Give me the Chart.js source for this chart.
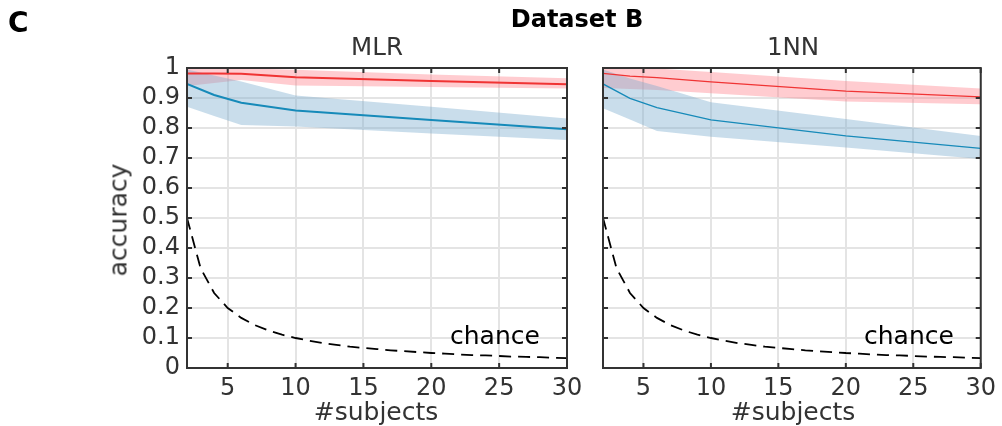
<!DOCTYPE html>
<html>
<head>
<meta charset="utf-8">
<script src="https://cdn.jsdelivr.net/npm/chart.js@4/dist/chart.umd.min.js"></script>
<style>
  body { margin: 0; background: #fff; }
  #wrap { position: relative; width: 1002px; height: 426px; overflow: hidden; font-family: 'DejaVu Sans', sans-serif; }
  canvas { position: absolute; top: 0; }
  .lbl { position: absolute; line-height: 1; white-space: nowrap; color: #333; }
</style>
</head>
<body>
<div id="wrap">
  <canvas id="mlr-chart" width="590" height="426" style="left:0"></canvas>
  <canvas id="nn-chart" width="417" height="426" style="left:585px"></canvas>

  <div class="lbl" style="left:8px;top:9px;font-size:28px;font-weight:bold;color:#000">C</div>
  <div class="lbl" style="left:577px;top:7px;font-size:24px;font-weight:bold;color:#000;transform:translateX(-50%)">Dataset B</div>
  <div class="lbl" style="left:377px;top:35.3px;font-size:24.5px;transform:translateX(-50%)">MLR</div>
  <div class="lbl" style="left:793px;top:35.3px;font-size:24.5px;transform:translateX(-50%)">1NN</div>
  <div class="lbl" style="left:118px;top:220px;font-size:25px;transform:translate(-50%,-50%) rotate(-90deg)">accuracy</div>
  <div class="lbl" style="left:376px;top:398.8px;font-size:25px;transform:translateX(-50%)">#subjects</div>
  <div class="lbl" style="left:793px;top:398.8px;font-size:25px;transform:translateX(-50%)">#subjects</div>
  <div class="lbl" style="left:450px;top:322.9px;font-size:25px;color:#000">chance</div>
  <div class="lbl" style="left:864px;top:322.9px;font-size:25px;color:#000">chance</div>
</div>
<script>
'use strict';

// ── Data ─────────────────────────────────────────────────────────────────────

const subjects = [2, 4, 6, 10, 20, 30];

const mlrRed      = [0.982, 0.982, 0.981, 0.969, 0.957, 0.946];
const mlrRedUp    = [1.000, 1.000, 0.999, 0.994, 0.978, 0.966];
const mlrRedLo    = [0.940, 0.950, 0.960, 0.942, 0.937, 0.932];
const mlrBlue     = [0.947, 0.910, 0.884, 0.858, 0.827, 0.796];
const mlrBlueUp   = [0.995, 0.975, 0.955, 0.908, 0.871, 0.832];
const mlrBlueLo   = [0.871, 0.840, 0.810, 0.805, 0.782, 0.760];

const nnRed       = [0.982, 0.973, 0.968, 0.954, 0.923, 0.904];
const nnRedUp     = [1.000, 1.000, 0.998, 0.987, 0.957, 0.932];
const nnRedLo     = [0.933, 0.930, 0.927, 0.916, 0.888, 0.879];
const nnBlue      = [0.947, 0.899, 0.868, 0.827, 0.774, 0.732];
const nnBlueUp    = [0.995, 0.965, 0.940, 0.886, 0.830, 0.773];
const nnBlueLo    = [0.866, 0.828, 0.790, 0.771, 0.735, 0.697];

const chanceX = [2, 3, 4, 5, 6, 7, 8, 9, 10, 11, 12, 13, 14, 15, 16, 17, 18, 19, 20,
                 21, 22, 23, 24, 25, 26, 27, 28, 29, 30];
const chanceY = [0.500, 0.333, 0.250, 0.200, 0.167, 0.143, 0.125, 0.111, 0.100, 0.091,
                 0.083, 0.077, 0.071, 0.067, 0.063, 0.059, 0.056, 0.053, 0.050, 0.048,
                 0.045, 0.043, 0.042, 0.040, 0.038, 0.037, 0.036, 0.034, 0.033];

const xTicks = [5, 10, 15, 20, 25, 30];
const yTicks = [0, 0.1, 0.2, 0.3, 0.4, 0.5, 0.6, 0.7, 0.8, 0.9, 1];
const yTickLabels = ['0', '0.1', '0.2', '0.3', '0.4', '0.5', '0.6', '0.7', '0.8', '0.9', '1'];

// ── Helpers ──────────────────────────────────────────────────────────────────

const RED = 'rgb(240,52,52)';
const BLUE = 'rgb(22,138,185)';
const RED_BAND = 'rgba(255,120,132,0.38)';
const BLUE_BAND = 'rgba(120,170,205,0.40)';

function pts(xs, ys) {
  return xs.map((x, i) => ({ x, y: ys[i] }));
}

function band(up, lo, color) {
  return [
    { data: pts(subjects, up), borderWidth: 0, pointRadius: 0, fill: '+1', backgroundColor: color, tension: 0 },
    { data: pts(subjects, lo), borderWidth: 0, pointRadius: 0, fill: false, tension: 0 },
  ];
}

function line(ys, color, w) {
  return { data: pts(subjects, ys), borderColor: color, borderWidth: w, pointRadius: 0, fill: false, tension: 0 };
}

// frame box + inward tick marks
const framePlugin = {
  id: 'frame',
  afterDatasetsDraw(chart) {
    const { ctx, chartArea: a, scales: { x, y } } = chart;
    ctx.save();
    ctx.strokeStyle = '#333';
    ctx.lineWidth = 2;
    ctx.beginPath();
    xTicks.forEach(v => {
      const px = x.getPixelForValue(v);
      ctx.moveTo(px, a.bottom); ctx.lineTo(px, a.bottom - 5);
      ctx.moveTo(px, a.top); ctx.lineTo(px, a.top + 5);
    });
    yTicks.forEach(v => {
      const py = y.getPixelForValue(v);
      ctx.moveTo(a.left, py); ctx.lineTo(a.left + 5, py);
      ctx.moveTo(a.right, py); ctx.lineTo(a.right - 5, py);
    });
    ctx.stroke();
    ctx.strokeRect(a.left, a.top, a.right - a.left, a.bottom - a.top);
    ctx.restore();
  },
};

function makeChart(id, s, opts) {
  const ctx = document.getElementById(id);
  return new Chart(ctx, {
    type: 'line',
    data: {
      datasets: [
        ...band(s.blueUp, s.blueLo, BLUE_BAND),
        ...band(s.redUp, s.redLo, RED_BAND),
        line(s.blue, BLUE, s.w),
        line(s.red, RED, s.w),
        { data: pts(chanceX, chanceY), borderColor: '#000', borderWidth: 1.8, borderDash: [12, 7],
          pointRadius: 0, fill: false, tension: 0 },
      ],
    },
    options: {
      responsive: false,
      animation: false,
      devicePixelRatio: 1,
      layout: { padding: { top: 68, bottom: 0, left: opts.padLeft, right: opts.padRight } },
      plugins: {
        legend: { display: false },
        tooltip: { enabled: false },
        filler: { drawTime: 'beforeDatasetsDraw' },
      },
      scales: {
        x: {
          type: 'linear', min: 2, max: 30,
          afterBuildTicks: sc => { sc.ticks = xTicks.map(v => ({ value: v })); },
          afterFit: sc => { sc.height = 58; },
          grid: { color: '#e4e4e4', lineWidth: 2, drawTicks: false },
          border: { display: false },
          ticks: { color: '#333', padding: 6, autoSkip: false, font: { family: 'DejaVu Sans', size: 24 }, maxRotation: 0 },
        },
        y: {
          min: 0, max: 1,
          afterBuildTicks: sc => { sc.ticks = yTicks.map(v => ({ value: v })); },
          afterFit: sc => { sc.width = opts.yWidth; },
          grid: { color: '#e4e4e4', lineWidth: 2, drawTicks: false },
          border: { display: false },
          ticks: {
            display: opts.yLabels, color: '#333', padding: 7, autoSkip: false,
            font: { family: 'DejaVu Sans', size: 24 },
            callback: (v, i) => yTickLabels[i],
          },
        },
      },
    },
    plugins: [framePlugin],
  });
}

// ── Charts ───────────────────────────────────────────────────────────────────

makeChart('mlr-chart',
  { red: mlrRed, redUp: mlrRedUp, redLo: mlrRedLo, blue: mlrBlue, blueUp: mlrBlueUp, blueLo: mlrBlueLo, w: 2 },
  { padLeft: 0, padRight: 23, yWidth: 187, yLabels: true });

makeChart('nn-chart',
  { red: nnRed, redUp: nnRedUp, redLo: nnRedLo, blue: nnBlue, blueUp: nnBlueUp, blueLo: nnBlueLo, w: 1.3 },
  { padLeft: 0, padRight: 19, yWidth: 18, yLabels: false });
</script>
</body>
</html>
